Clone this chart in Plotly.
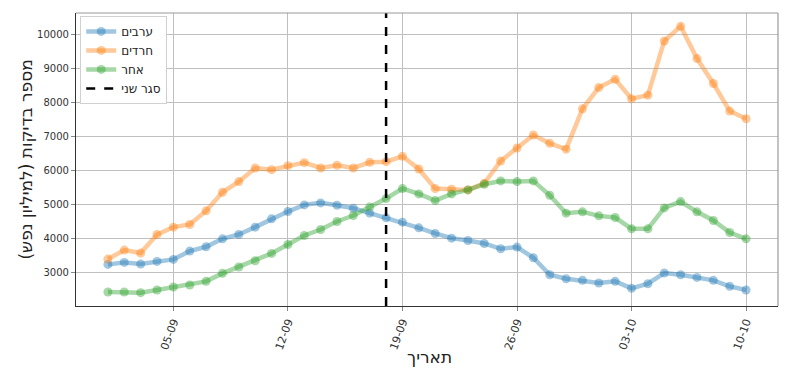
import plotly.graph_objects as go
import pandas as pd

dates = pd.date_range("2020-09-01", "2020-10-10", freq="D")

arabs = [3230, 3289, 3240, 3318, 3377, 3621, 3748, 3983, 4110, 4326,
         4570, 4785, 4981, 5040, 4971, 4883, 4737, 4600, 4472, 4306,
         4140, 4003, 3934, 3846, 3690, 3739, 3426, 2927, 2809, 2760,
         2682, 2731, 2525, 2662, 2976, 2927, 2848, 2760, 2584, 2477]

haredim = [3387, 3651, 3563, 4110, 4326, 4404, 4805, 5353, 5666, 6067,
           6018, 6136, 6224, 6067, 6145, 6067, 6233, 6253, 6410, 6038,
           5461, 5441, 5421, 5617, 6273, 6654, 7036, 6791, 6620, 7808,
           8435, 8679, 8102, 8210, 9804, 10235, 9286, 8552, 7740, 7515]

other = [2418, 2418, 2398, 2477, 2565, 2623, 2731, 2966, 3152, 3338,
         3553, 3817, 4081, 4257, 4492, 4668, 4922, 5167, 5461, 5304,
         5108, 5304, 5421, 5588, 5686, 5666, 5686, 5265, 4737, 4776,
         4658, 4609, 4277, 4277, 4893, 5079, 4776, 4521, 4169, 3983]

series_names = ["ערבים", "חרדים", "אחר"]
series_colors = ["rgba(31,119,180,0.42)", "rgba(255,127,14,0.42)", "rgba(44,160,44,0.42)"]
lockdown_date = "2020-09-18"
lockdown_name = "סגר שני"
y_title = "מספר בדיקות (למיליון נפש)"
x_title = "תאריך"
y_ticks = [3000, 4000, 5000, 6000, 7000, 8000, 9000, 10000]
y_ticktext = [str(v) for v in y_ticks]

fig = go.Figure()
for name, vals, col in zip(series_names, [arabs, haredim, other], series_colors):
    fig.add_trace(go.Scatter(
        x=dates, y=vals, name=name, mode="lines+markers",
        line=dict(color=col, width=4.5),
        marker=dict(color=col, size=9),
    ))

fig.add_trace(go.Scatter(x=[None], y=[None], mode="lines", name=lockdown_name,
                         line=dict(color="black", width=2.5, dash="dash")))
fig.add_shape(type="line", x0=lockdown_date, x1=lockdown_date, y0=0, y1=1,
              xref="x", yref="paper", line=dict(color="black", width=2.5, dash="dash"))
# light top / right frame
fig.add_shape(type="line", x0=0, x1=1, y0=1, y1=1, xref="paper", yref="paper",
              line=dict(color="#9a9a9a", width=1.2))
fig.add_shape(type="line", x0=1, x1=1, y0=0, y1=1, xref="paper", yref="paper",
              line=dict(color="#9a9a9a", width=1.2))

fig.add_annotation(text=y_title, textangle=-90, x=-0.0726, y=0.5, xref="paper", yref="paper",
                   xanchor="center", yanchor="middle", showarrow=False,
                   font=dict(size=17, color="#222"))
fig.add_annotation(text=x_title, x=0.503, y=-0.174, xref="paper", yref="paper",
                   xanchor="center", yanchor="middle", showarrow=False,
                   font=dict(size=17, color="#222"))

x0 = pd.Timestamp("2020-09-01") - pd.Timedelta(days=1.95)
x1 = pd.Timestamp("2020-10-10") + pd.Timedelta(days=1.95)

fig.update_layout(
    width=804, height=387,
    margin=dict(l=68, r=34, t=5, b=89),
    paper_bgcolor="white", plot_bgcolor="white",
    font=dict(family="DejaVu Sans", size=10, color="#333"),
    legend=dict(x=0.006, y=0.99, xanchor="left", yanchor="top",
                bgcolor="white", bordercolor="#d0d0d0", borderwidth=1,
                font=dict(size=12, color="#222"), tracegroupgap=0, itemwidth=30),
    xaxis=dict(
        range=[x0, x1], type="date", tickformat="%d-%m", automargin=False,
        tick0="2020-09-05", dtick=7 * 24 * 3600 * 1000, tickangle=-70,
        tickfont=dict(size=11),
        showgrid=True, gridcolor="#c0c0c0", gridwidth=0.8,
        showline=True, linecolor="#333", linewidth=1.2,
        ticks="outside", ticklen=4, tickcolor="#888",
    ),
    yaxis=dict(
        range=[2006, 10627], tickvals=y_ticks, ticktext=y_ticktext, automargin=False,
        showgrid=True, gridcolor="#c0c0c0", gridwidth=0.8,
        showline=True, linecolor="#333", linewidth=1.2,
        ticks="outside", ticklen=4, tickcolor="#888", zeroline=False,
    ),
)

fig.write_html("out.html")
